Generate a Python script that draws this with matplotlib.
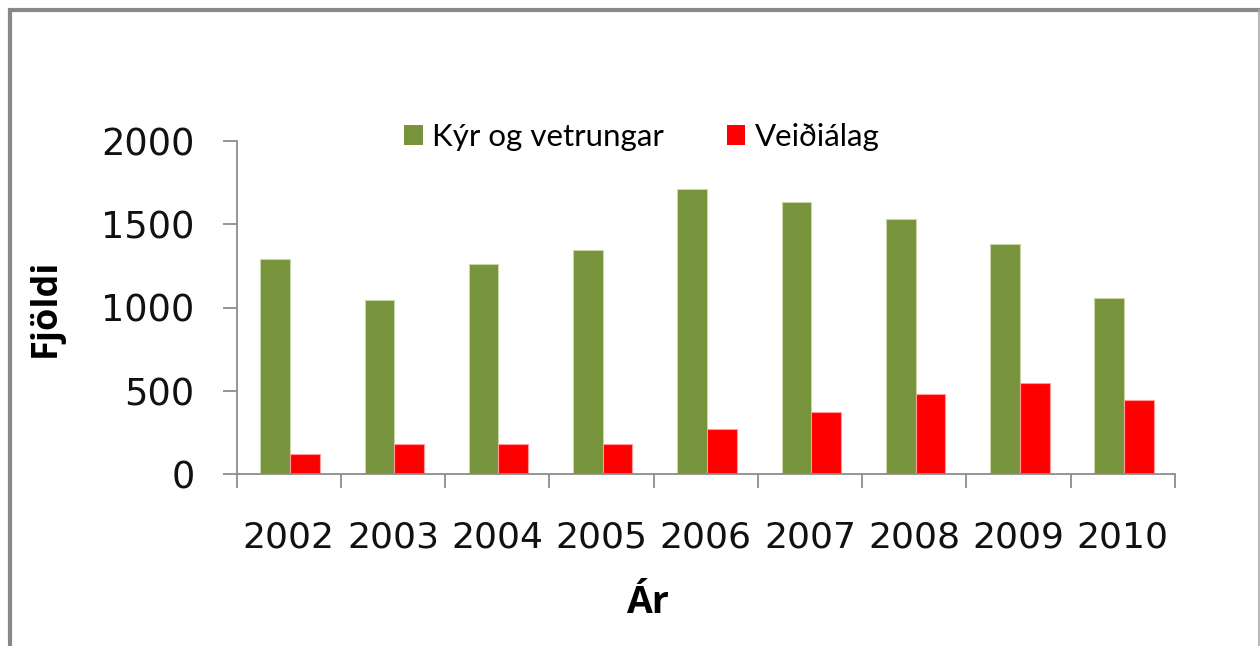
import matplotlib
matplotlib.use("Agg")
import matplotlib.pyplot as plt
from matplotlib.lines import Line2D
import numpy as np

years = ["2002", "2003", "2004", "2005", "2006", "2007", "2008", "2009", "2010"]
kyr = [1289, 1045, 1263, 1345, 1712, 1633, 1529, 1379, 1057]
veidi = [122, 180, 180, 180, 272, 375, 480, 549, 445]
series_names = ["Kýr og vetrungar", "Veiðiálag"]
colors = ["#77933C", "#FF0000"]
yticks = [0, 500, 1000, 1500, 2000]

W, H = 1260, 646
fig = plt.figure(figsize=(W / 100, H / 100), dpi=100)
ax = fig.add_axes([236.5 / W, 1 - 474.3 / H, (1175 - 236.5) / W, (474.3 - 140.7) / H])

x = np.arange(len(years))
bw = 0.285
ax.bar(x - 0.13, kyr, width=bw, color=colors[0], edgecolor="#C9D6A8", linewidth=0.8, label=series_names[0])
ax.bar(x + 0.155, veidi, width=bw, color=colors[1], edgecolor="#FF9A9A", linewidth=0.8, label=series_names[1])

ax.set_xlim(-0.5, len(years) - 0.5)
ax.set_ylim(0, 2000)
ax.set_yticks(yticks)
ax.set_yticklabels([str(v) for v in yticks])
ax.set_xticks(x)
ax.set_xticklabels(years)
ax.set_xticks(np.arange(len(years) + 1) - 0.5, minor=True)

gray = "#8C8C8C"
for s in ["top", "right"]:
    ax.spines[s].set_visible(False)
for s in ["left", "bottom"]:
    ax.spines[s].set_color(gray)
    ax.spines[s].set_linewidth(1.3)

ax.tick_params(axis="y", which="major", direction="out", length=10, width=1.3, color=gray,
               pad=20, labelsize=26.5, labelcolor="#111111")
ax.tick_params(axis="x", which="major", length=0, pad=33, labelsize=26, labelcolor="#111111")
ax.tick_params(axis="x", which="minor", direction="out", length=10, width=1.3, color=gray)

for lab in ax.get_xticklabels() + ax.get_yticklabels():
    lab.set_family("DejaVu Sans")

ax.set_ylabel("Fjöldi", fontsize=26, fontweight="bold", family="Open Sans")
ax.yaxis.label.set_va("center")
ax.yaxis.set_label_coords((46 - 236.5) / (1175 - 236.5), 0.5)
ax.set_xlabel("Ár", fontsize=27, fontweight="bold", family="Open Sans")
ax.xaxis.label.set_va("center")
ax.xaxis.set_label_coords((647 - 236.5) / (1175 - 236.5), (474.3 - 603) / (474.3 - 140.7))

leg = fig.legend(loc="center left", bbox_to_anchor=(404 / W, 1 - 137 / H), ncol=2, frameon=False,
                 borderpad=0, borderaxespad=0, handlelength=0.6, handleheight=0.64,
                 handletextpad=0.3, columnspacing=2.0,
                 prop={"family": "Lato", "size": 22.5})
for h in leg.legend_handles:
    h.set_edgecolor("none")

# outer frame
fig.add_artist(Line2D([9.8 / W, 9.8 / W, 1258.5 / W], [0, 1 - 10.3 / H, 1 - 10.3 / H],
                      transform=fig.transFigure, color="#888888", linewidth=3.0,
                      solid_joinstyle="miter"))
fig.add_artist(Line2D([1258.5 / W, 1258.5 / W], [1 - 10.3 / H, 0],
                      transform=fig.transFigure, color="#AAAAAA", linewidth=1.2))

fig.savefig("out.png", dpi=100)
